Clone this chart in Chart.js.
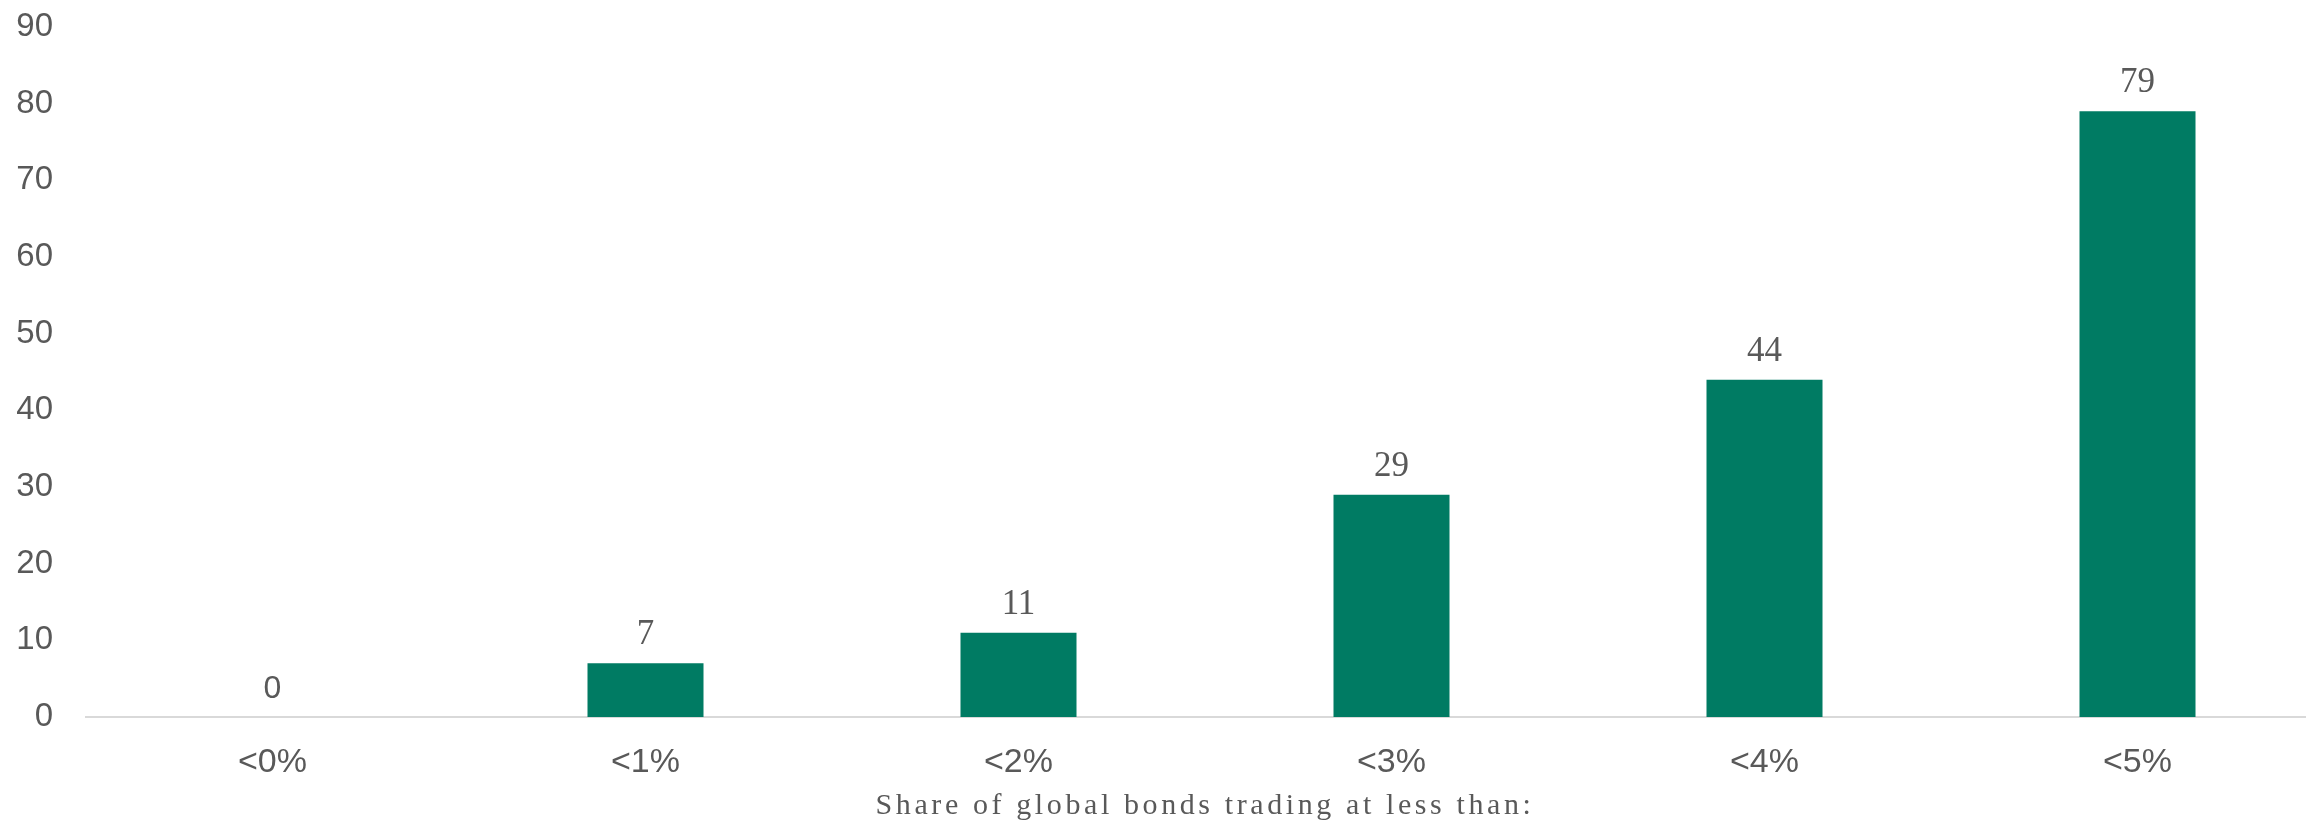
<!DOCTYPE html>
<html>
<head>
<meta charset="utf-8">
<script src="https://cdn.jsdelivr.net/npm/chart.js@4.4.1/dist/chart.umd.min.js"></script>
<style>
  html, body { margin: 0; padding: 0; background: #ffffff; overflow: hidden; }
  #wrap { position: relative; width: 2324px; height: 825px; }
</style>
</head>
<body>
<div id="wrap"><canvas id="chart"></canvas></div>
<script>
// Share of global bonds trading below each yield threshold (%)
const categories = ['<0%', '<1%', '<2%', '<3%', '<4%', '<5%'];
const shareValues = [0, 7, 11, 29, 44, 79];
const yTicks = [0, 10, 20, 30, 40, 50, 60, 70, 80, 90];
const axisTitle = 'Share of global bonds trading at less than:';

const GREEN = '#007b63';
const GREY = '#595959';

// Value labels above each bar (zero shown in sans, others in serif)
const valueLabels = {
  id: 'valueLabels',
  afterDatasetsDraw(chart) {
    const ctx = chart.ctx;
    const meta = chart.getDatasetMeta(0);
    ctx.save();
    ctx.fillStyle = GREY;
    ctx.textAlign = 'center';
    ctx.textBaseline = 'alphabetic';
    meta.data.forEach((bar, i) => {
      const v = shareValues[i];
      ctx.font = v === 0 ? '32px "Liberation Sans", Arial, sans-serif'
                         : '35px "Liberation Serif", "Times New Roman", serif';
      ctx.fillText(String(v), bar.x, bar.y - 19);
    });
    ctx.restore();
  }
};

// Spaced serif caption under the category axis
const axisCaption = {
  id: 'axisCaption',
  afterDraw(chart) {
    const ctx = chart.ctx;
    const x = chart.scales.x;
    ctx.save();
    ctx.fillStyle = GREY;
    ctx.font = '30px "Liberation Serif", "Times New Roman", serif';
    ctx.letterSpacing = '3.6px';
    ctx.textAlign = 'center';
    ctx.textBaseline = 'alphabetic';
    ctx.fillText(axisTitle, (x.left + x.right) / 2, 814);
    ctx.restore();
  }
};

new Chart(document.getElementById('chart'), {
  type: 'bar',
  data: {
    labels: categories,
    datasets: [{
      data: shareValues,
      backgroundColor: GREEN,
      borderWidth: 0,
      barPercentage: 0.311,
      categoryPercentage: 1.0
    }]
  },
  options: {
    responsive: true,
    maintainAspectRatio: false,
    animation: false,
    layout: { padding: { top: 27, left: 0, right: 0, bottom: 0 } },
    plugins: {
      legend: { display: false },
      tooltip: { enabled: false }
    },
    scales: {
      x: {
        grid: { display: false, drawTicks: false },
        border: { display: true, color: '#d9d9d9', width: 2 },
        ticks: {
          color: GREY,
          font: { family: '"Liberation Sans", Arial, sans-serif', size: 34 },
          padding: 25,
          maxRotation: 0
        },
        afterFit(scale) {
          scale.height = 108;
          scale.paddingLeft = 0;
          scale.paddingRight = 0;
        }
      },
      y: {
        min: 0,
        max: 90,
        afterBuildTicks(scale) {
          scale.ticks = yTicks.map(v => ({ value: v }));
        },
        grid: { display: false, drawTicks: false },
        border: { display: false },
        ticks: {
          color: GREY,
          font: { family: '"Liberation Sans", Arial, sans-serif', size: 33 },
          padding: 33
        },
        afterFit(scale) {
          scale.width = 86;
          scale.paddingTop = 0;
          scale.paddingBottom = 0;
        }
      }
    }
  },
  plugins: [valueLabels, axisCaption]
});
</script>
</body>
</html>
